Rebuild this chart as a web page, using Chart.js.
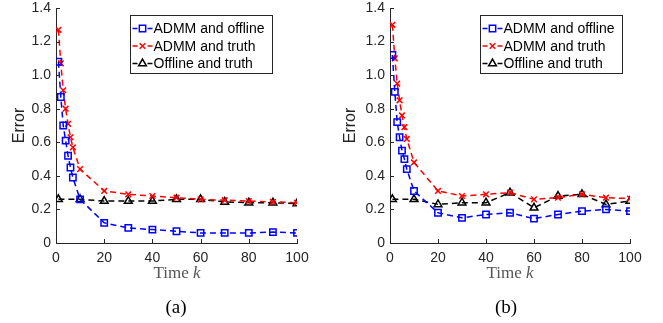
<!DOCTYPE html>
<html>
<head>
<meta charset="utf-8">
<script src="https://cdn.jsdelivr.net/npm/chart.js@4.4.0/dist/chart.umd.min.js"></script>
<style>
  body{margin:0;background:#fff;width:663px;height:323px;position:relative;overflow:hidden}
  canvas{position:absolute;top:0}
  #ca{left:0}
  #cb{left:331px}
  .xt{position:absolute;top:263px;line-height:20px;font-family:"Liberation Serif","Times New Roman",serif;font-size:17px;color:#555;transform:translateX(-50%);white-space:nowrap}
  .cap{position:absolute;top:296px;line-height:22px;font-family:"Liberation Serif","Times New Roman",serif;font-size:19px;color:#000;transform:translateX(-50%)}
</style>
</head>
<body>
<canvas id="ca" width="331" height="323"></canvas>
<canvas id="cb" width="332" height="323"></canvas>
<div class="xt" style="left:177px">Time <i>k</i></div>
<div class="xt" style="left:510px">Time <i>k</i></div>
<div class="cap" style="left:176px">(a)</div>
<div class="cap" style="left:506px">(b)</div>
<script>
// time steps
const kDense = [1,2,3,4,5,6,7,10,20,30,40,50,60,70,80,90,100];
const kSparse = [1,10,20,30,40,50,60,70,80,90,100];
const xTicks = [0,20,40,60,80,100];
const yTicks = [0,0.2,0.4,0.6,0.8,1,1.2,1.4];
const seriesNames = ['ADMM and offline','ADMM and truth','Offline and truth'];

// (a)
const admmOfflineA = [1.08,0.87,0.70,0.61,0.52,0.45,0.39,0.26,0.12,0.09,0.08,0.07,0.06,0.06,0.06,0.065,0.06];
const admmTruthA   = [1.27,1.07,0.91,0.80,0.71,0.63,0.57,0.44,0.31,0.29,0.28,0.27,0.26,0.255,0.25,0.245,0.24];
const offTruthA    = [0.26,0.26,0.25,0.25,0.25,0.26,0.26,0.245,0.24,0.24,0.235];
// (b)
const admmOfflineB = [1.12,0.90,0.72,0.63,0.55,0.50,0.44,0.31,0.18,0.15,0.17,0.18,0.145,0.17,0.19,0.20,0.19];
const admmTruthB   = [1.30,1.10,0.95,0.85,0.76,0.69,0.62,0.48,0.31,0.28,0.29,0.30,0.26,0.27,0.29,0.27,0.265];
const offTruthB    = [0.26,0.26,0.23,0.24,0.24,0.30,0.21,0.28,0.29,0.23,0.25];

const axisCol = '#262626';
const tickFont = {family: '"Liberation Sans", Arial, sans-serif', size: 14};
const pts = (xs, ys) => xs.map((x, i) => ({x: x, y: ys[i]}));

function ds(label, data, color, style, r) {
  return {
    label, data,
    borderColor: color,
    backgroundColor: 'rgba(0,0,0,0)',
    borderWidth: 1.5,
    borderDash: [6,4],
    pointStyle: style,
    pointRadius: r,
    pointBorderWidth: 1.5,
    pointBorderColor: color,
    pointBackgroundColor: 'rgba(0,0,0,0)',
    tension: 0
  };
}

// inward ticks like matlab
const innerTicks = {
  id: 'innerTicks',
  afterDraw(chart) {
    const {ctx, chartArea: a, scales: {x, y}} = chart;
    ctx.save();
    ctx.strokeStyle = axisCol;
    ctx.lineWidth = 1;
    ctx.beginPath();
    xTicks.forEach(v => { const px = Math.round(x.getPixelForValue(v)) + 0.5; ctx.moveTo(px, a.bottom); ctx.lineTo(px, a.bottom - 4); });
    yTicks.forEach(v => { const py = Math.round(y.getPixelForValue(v)) + 0.5; ctx.moveTo(a.left, py); ctx.lineTo(a.left + 4, py); });
    ctx.stroke();
    ctx.restore();
  }
};

// legend box inside the plot, top right
const boxLegend = {
  id: 'boxLegend',
  afterDraw(chart, args, opts) {
    const {ctx, chartArea: a} = chart;
    const bx = a.left + opts.dx + 0.5, by = a.top + opts.dy + 0.5, w = opts.w, h = 58;
    ctx.save();
    ctx.fillStyle = '#fff';
    ctx.fillRect(bx, by, w, h);
    ctx.strokeStyle = axisCol;
    ctx.lineWidth = 1;
    ctx.strokeRect(bx, by, w, h);
    ctx.font = '14px "Liberation Sans", Arial, sans-serif';
    ctx.textBaseline = 'middle';
    chart.data.datasets.forEach((d, i) => {
      const ry = by + 13 + i * 17.5;
      ctx.strokeStyle = d.borderColor;
      ctx.lineWidth = 1.5;
      ctx.setLineDash([]);
      ctx.beginPath();
      ctx.moveTo(bx + 2, ry); ctx.lineTo(bx + 7, ry);
      ctx.moveTo(bx + 17, ry); ctx.lineTo(bx + 22, ry);
      ctx.stroke();
      ctx.fillStyle = 'rgba(0,0,0,0)';
      Chart.helpers.drawPoint(ctx, {pointStyle: d.pointStyle, radius: d.pointRadius, rotation: 0, borderWidth: 1.5}, bx + 12, ry);
      ctx.fillStyle = '#000';
      ctx.fillText(d.label, bx + 23, ry + 1);
    });
    ctx.restore();
  }
};

function makeChart(id, blue, red, black, yw, padRight, legendDx, legendW) {
  return new Chart(document.getElementById(id), {
    type: 'line',
    data: {
      datasets: [
        ds(seriesNames[0], pts(kDense, blue), '#0000ff', 'rect', 4.5),
        ds(seriesNames[1], pts(kDense, red), '#ff0000', 'crossRot', 4),
        ds(seriesNames[2], pts(kSparse, black), '#000000', 'triangle', 4.5)
      ]
    },
    options: {
      responsive: false,
      animation: false,
      devicePixelRatio: 1,
      layout: {padding: {top: 8, right: padRight, bottom: 0, left: 0}},
      plugins: {
        legend: {display: false},
        tooltip: {enabled: false},
        boxLegend: {dx: legendDx, dy: 7, w: legendW}
      },
      scales: {
        x: {
          type: 'linear', min: 0, max: 100,
          afterBuildTicks: s => { s.ticks = xTicks.map(v => ({value: v})); },
          afterFit: s => { s.height = 80; },
          grid: {display: false, drawTicks: false},
          border: {display: true, color: axisCol, width: 1},
          ticks: {padding: 7, color: axisCol, font: tickFont}
        },
        y: {
          type: 'linear', min: 0, max: 1.4,
          afterBuildTicks: s => { s.ticks = yTicks.map(v => ({value: v})); },
          afterFit: s => { s.width = yw; s.paddingTop = 0; s.paddingBottom = 0; },
          grid: {display: false, drawTicks: false},
          border: {display: true, color: axisCol, width: 1},
          ticks: {padding: 5, color: axisCol, font: tickFont},
          title: {display: true, text: 'Error', color: axisCol, padding: {top: 10, bottom: 0},
                  font: {family: '"Liberation Sans", Arial, sans-serif', size: 16}}
        }
      }
    },
    plugins: [innerTicks, boxLegend]
  });
}

makeChart('ca', admmOfflineA, admmTruthA, offTruthA, 56, 34, 74, 142);
makeChart('cb', admmOfflineB, admmTruthB, offTruthB, 59, 33, 90, 142);
</script>
</body>
</html>
